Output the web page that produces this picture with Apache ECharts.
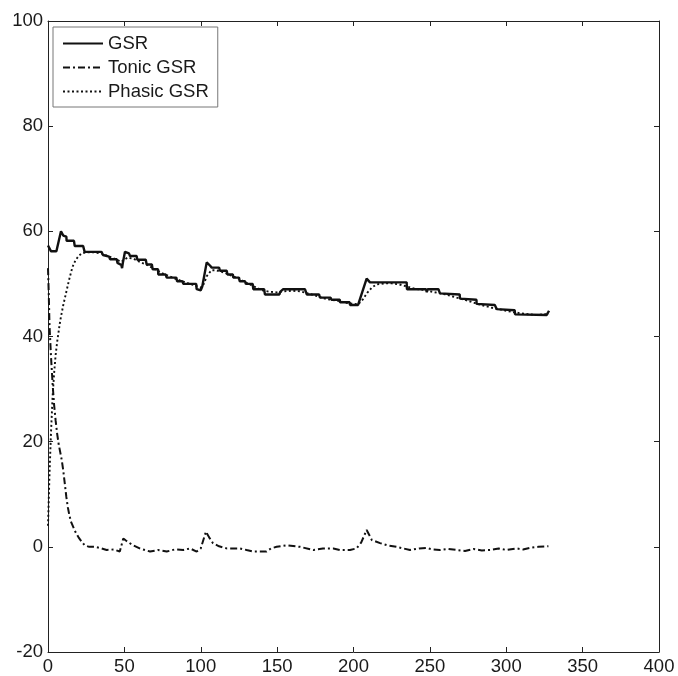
<!DOCTYPE html>
<html>
<head>
<meta charset="utf-8">
<script src="https://cdn.jsdelivr.net/npm/echarts@6/dist/echarts.min.js"></script>
<style>
  html, body { margin: 0; padding: 0; background: #fff; }
  #chart { width: 678px; height: 676px; }
</style>
</head>
<body>
<div id="chart"></div>
<script>
// axis ticks
var xTicks = [0, 50, 100, 150, 200, 250, 300, 350, 400]
var yTicks = [-20, 0, 20, 40, 60, 80, 100]

// GSR (solid, step-like)
var gsrData = [
  [0,57.3],[1,57],[2,56.2],[5.5,56.2],[8.5,60],[10,59.2],[12,59],[12.2,58.2],[17,58.2],[17.5,57.2],
  [23,57.2],[24,56.1],[35,56.1],[36,55.5],[40,55.2],[40.6,54.7],[45,54.7],[45.5,54],[48,53.6],[48.5,53],
  [49,54],[50.4,56.1],[53,55.8],[53.7,55.3],[58,55.3],[58.5,54.6],[64,54.6],[64.6,53.7],[68,53.7],[68.5,52.8],
  [72,52.8],[72.2,51.8],[77,51.8],[77.7,51.2],[84,51.2],[84.5,50.5],[88,50.5],[88.6,50],[97,50],[97.3,49],
  [100,48.8],[101,49.5],[103.9,54.1],[106,53.5],[107.2,53.1],[112,53.1],[112.6,52.5],[117,52.5],[117.5,51.8],[121,51.8],
  [121.3,51.2],[125,51.2],[125.5,50.5],[129,50.5],[129.5,50],[134,50],[134.4,49],[141.5,49],[142,48],[151.5,48],
  [152,48.5],[154,49],[168.2,49],[169.4,48],[177.5,48],[178,47.4],[185,47.4],[185.5,47],[191,47],[191.2,46.5],
  [197.5,46.5],[197.7,46],[203,46],[204,46.3],[208.6,51],[210.8,50.3],[234.8,50.3],[235,49],[247.5,49],[248,48.4],
  [248.5,49],[255.6,49],[256.6,48.2],[269.5,48],[269.7,47.2],[280.5,47],[280.6,46.2],[292.5,46],[293.8,45.2],[305.5,45],
  [305.8,44.2],[326.5,44.1],[328,44.9]
]

// Tonic GSR (dash-dot)
var tonicData = [
  [0,53],[0.5,48],[1,42],[2,36],[3,31],[4,27],[5,24],[6,21.5],[7,19.5],[8,18],
  [9,16.5],[10,14.5],[11,12],[12,9.5],[13,7.5],[14,6],[15,4.8],[16.5,3.8],[18,2.8],[20,1.8],
  [22,1],[24,0.3],[27,0],[31,0],[35,-0.3],[38.4,-0.6],[43,-0.5],[47,-0.9],[48,-0.8],[49.3,1.6],
  [51,1.2],[53,0.8],[55.8,0.3],[60,-0.3],[66.8,-0.9],[72,-0.6],[77.7,-0.9],[83,-0.5],[88.6,-0.6],[93,-0.3],
  [97.3,-0.9],[100,-0.3],[103.4,2.9],[105.5,1.8],[108,0.7],[112,0.1],[117,-0.3],[125.7,-0.3],[130,-0.6],[134.4,-0.9],
  [143,-0.9],[146,-0.3],[149.7,0],[156.3,0.3],[165,0],[173.7,-0.6],[180,-0.3],[186.8,-0.3],[191,-0.6],[197.7,-0.6],
  [202,-0.3],[205,0.8],[208.6,3.2],[212,1.3],[217.4,0.7],[222,0.3],[228.3,0],[237,-0.6],[243,-0.3],[247.9,-0.2],
  [252,-0.5],[256.6,-0.6],[262,-0.4],[267.5,-0.6],[273,-0.8],[278.5,-0.4],[284,-0.7],[289.4,-0.6],[295,-0.3],[300.3,-0.6],
  [306.8,-0.3],[311,-0.5],[315.6,-0.2],[321,0],[327.6,0.1]
]

// Phasic GSR (dotted)
var phasicData = [
  [0,4],[0.5,9],[1,14],[2,22],[3,28.5],[4,33],[5,36.5],[6,39],[7,41],[8,43],
  [9,44.5],[10,46],[12,48.5],[14,51],[16,53.2],[18,54.5],[20,55.3],[22,55.8],[25,56],[30,56],
  [35,55.8],[40,55.2],[45,54.6],[48,54.2],[50,54.6],[52,55],[56,54.8],[60,54.2],[65,53.6],[70,52.8],
  [75,52],[80,51.4],[85,50.8],[90,50.3],[95,49.8],[100,49.3],[102,50],[104,51.5],[107,52.6],[110,52.6],
  [115,52.2],[120,51.6],[125,51],[130,50.2],[135,49.5],[140,48.8],[145,48.5],[150,48.4],[155,48.6],[160,48.7],
  [165,48.6],[170,48.2],[175,47.8],[180,47.3],[185,47],[190,46.8],[195,46.4],[200,46.2],[203,46.1],[206,47],
  [209,48.3],[212,49.3],[215,49.9],[220,50.1],[225,50.1],[230,49.9],[235,49.5],[240,49.1],[245,48.9],[250,48.6],
  [255,48.3],[260,48],[265,47.6],[270,47.2],[275,46.8],[280,46.3],[285,45.9],[290,45.5],[295,45.2],[300,44.9],
  [305,44.6],[310,44.4],[315,44.2],[320,44.1],[328,44.3]
]

var font = "'Liberation Sans', Arial, sans-serif"
var chart = echarts.init(document.getElementById('chart'))

function xAxisCfg(pos, labels) {
  return {
    type: 'value', position: pos,
    min: xTicks[0], max: xTicks[xTicks.length - 1], interval: 50,
    axisLine: { show: true, onZero: false, lineStyle: { color: '#222', width: 1 } },
    axisTick: { show: true, inside: true, length: 5, lineStyle: { color: '#222' } },
    axisLabel: { show: labels, margin: 5, color: '#1a1a1a', fontSize: 18.5, fontFamily: font },
    splitLine: { show: false }
  }
}
function yAxisCfg(pos, labels) {
  return {
    type: 'value', position: pos,
    min: yTicks[0], max: yTicks[yTicks.length - 1], interval: 20,
    axisLine: { show: true, onZero: false, lineStyle: { color: '#222', width: 1 } },
    axisTick: { show: true, inside: true, length: 5, lineStyle: { color: '#222' } },
    axisLabel: { show: labels, margin: 5, color: '#1a1a1a', fontSize: 18.5, fontFamily: font },
    splitLine: { show: false }
  }
}

chart.setOption({
  backgroundColor: '#fff',
  animation: false,
  grid: { left: 48, right: 19, top: 21, bottom: 22 },
  xAxis: [xAxisCfg('bottom', true), xAxisCfg('top', false)],
  yAxis: [yAxisCfg('left', true), yAxisCfg('right', false)],
  legend: {
    orient: 'vertical', left: 53, top: 27,
    padding: [7, 9, 6, 9],
    itemWidth: 40, itemHeight: 14, itemGap: 5,
    backgroundColor: '#fff',
    borderColor: '#777', borderWidth: 1, borderRadius: 0,
    itemStyle: { opacity: 0 },
    textStyle: { color: '#1a1a1a', fontSize: 18.5, fontFamily: font },
    data: ['GSR', 'Tonic GSR', 'Phasic GSR']
  },
  series: [
    {
      name: 'GSR', type: 'line', data: gsrData, symbol: 'none',
      lineStyle: { color: '#111', width: 2.4, type: 'solid' }, itemStyle: { color: '#111' }
    },
    {
      name: 'Tonic GSR', type: 'line', data: tonicData, symbol: 'none',
      lineStyle: { color: '#111', width: 2, type: [7, 3, 2, 3] }, itemStyle: { color: '#111' }
    },
    {
      name: 'Phasic GSR', type: 'line', data: phasicData, symbol: 'none',
      lineStyle: { color: '#111', width: 1.9, type: [2, 2.5] }, itemStyle: { color: '#111' }
    }
  ]
})
</script>
</body>
</html>
